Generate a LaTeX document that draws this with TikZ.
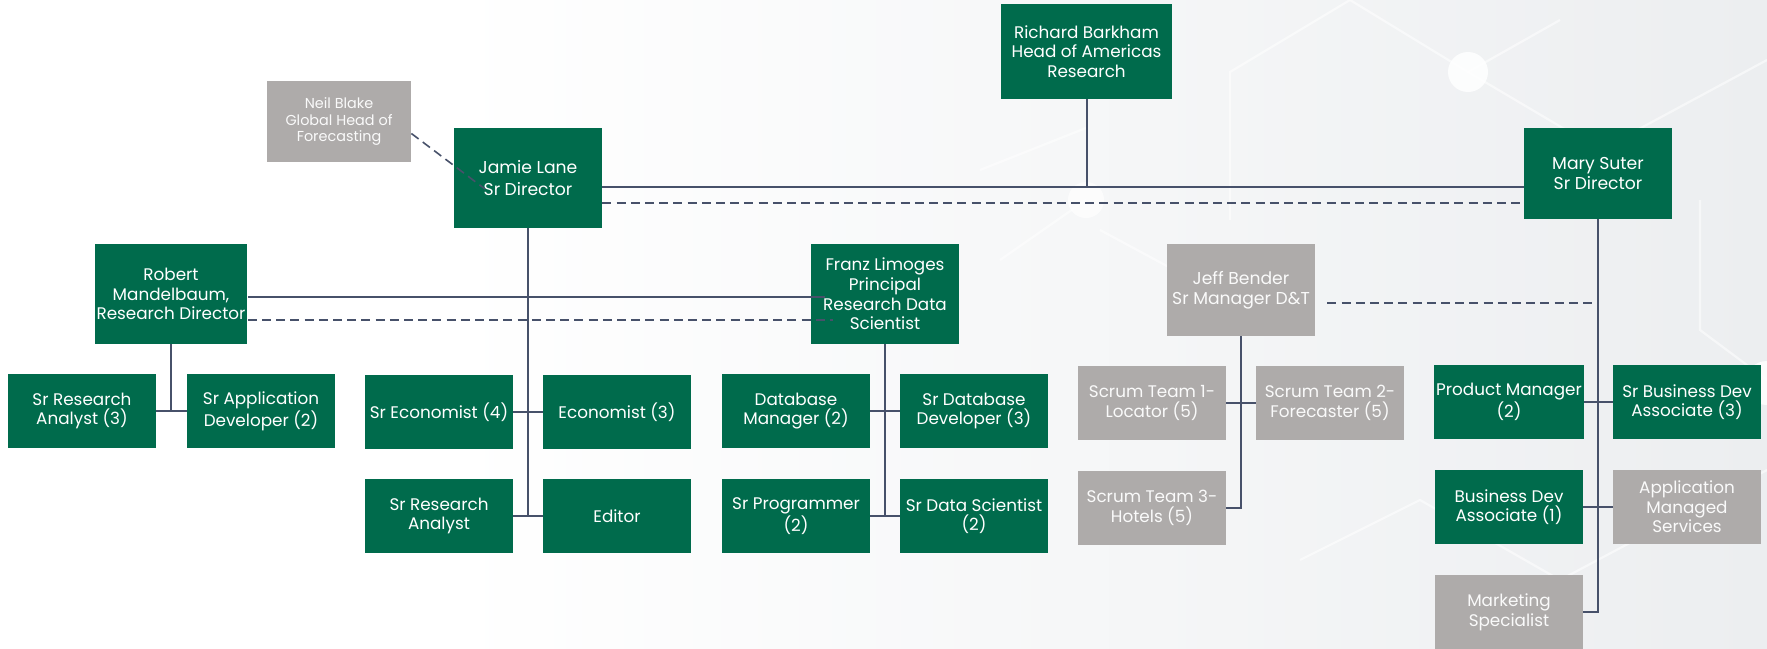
\documentclass[tikz,border=0pt]{standalone}
\usepackage{fontspec}
\setmainfont{Poppins}
\usepackage{tikz}
\usetikzlibrary{positioning}
\definecolor{orggreen}{HTML}{006B4C}
\definecolor{orggray}{HTML}{AEABAA}
\definecolor{linkcol}{HTML}{47516A}
\definecolor{bggray}{HTML}{ECEEF0}

\begin{document}
\begin{tikzpicture}[x=0.5pt,y=-0.5pt,
    person/.style={rectangle,inner sep=1pt,align=center,text=white,
      minimum width=74pt,minimum height=37pt,font=\fontsize{8.4}{9.8}\selectfont},
    staff/.style={person,fill=orggreen},
    outside/.style={person,fill=orggray,text=white!94!orggray},
    link/.style={draw=linkcol,line width=1pt},
    dlink/.style={draw=linkcol,line width=0.8pt,dash pattern=on 4.5pt off 2.6pt},
    hexline/.style={draw=white,line width=1.1pt,opacity=0.55}]

    % backdrop
    \useasboundingbox (0,0) rectangle (1767,648);
    \fill[white] (0,0) rectangle (1767,648);
    \shade[left color=white,right color=bggray] (450,0) rectangle (1767,648);
    \draw[hexline] (980,170) -- (1086,128);
    \draw[hexline] (1230,220) -- (1230,72) -- (1350,0);
    \draw[hexline] (1350,0) -- (1468,72) -- (1560,20);
    \draw[hexline] (1468,72) -- (1600,150) -- (1767,60);
    \draw[hexline] (1700,200) -- (1700,330) -- (1767,380);
    \draw[hexline] (1100,230) -- (1230,300) -- (1300,260);
    \draw[hexline] (1086,200) -- (1000,260);
    \draw[hexline] (1300,560) -- (1420,500) -- (1560,580) -- (1767,470);
    \draw[hexline] (1560,580) -- (1560,648);
    \fill[white,opacity=0.85] (1468,72) circle (20);
    \fill[white,opacity=0.7] (1086,200) circle (18);
    \fill[white,opacity=0.85] (1767,383) circle (22);

    % top of the chart
    \node[staff,minimum width=85.5pt,minimum height=47.5pt] (rich) at (1086.5,51.5)
      {Richard Barkham\\Head of Americas\\Research};
    \node[outside,minimum width=72pt,minimum height=40.5pt,
      font=\fontsize{7.2}{8.4}\selectfont] (neil) at (339,121.5)
      {Neil Blake\\Global Head of\\Forecasting};
    \node[staff,minimum height=50pt,font=\fontsize{8.6}{10.8}\selectfont] (jamie) at (528,178)
      {Jamie Lane\\Sr Director};
    \node[staff,minimum height=45.5pt,font=\fontsize{8.6}{10.2}\selectfont] (mary) at (1598,173.5)
      {Mary Suter\\Sr Director};

    % managers
    \node[staff,minimum height=50pt] (robert) at (171,294)
      {Robert\\Mandelbaum,\\Research Director};
    \node[staff,minimum height=50pt] (franz) at (885,294)
      {Franz Limoges\\Principal\\Research Data\\Scientist};
    \node[outside,minimum height=46pt,font=\fontsize{8.6}{10}\selectfont] (jeff) at (1241,290)
      {Jeff Bender\\Sr Manager D\&T};

    % teams
    \node[staff] (sra3)  at (82,411)  {Sr Research\\Analyst (3)};
    \node[staff] (sad2)  at (261,411) {Sr Application\\Developer (2)};
    \node[staff] (seco)  at (439,412) {Sr Economist (4)};
    \node[staff] (eco)   at (617,412) {Economist (3)};
    \node[staff] (dbm)   at (796,411) {Database\\Manager (2)};
    \node[staff] (sdbd)  at (974,411) {Sr Database\\Developer (3)};
    \node[staff] (sra)   at (439,516) {Sr Research\\Analyst};
    \node[staff] (editor) at (617,516) {Editor};
    \node[staff] (sprog) at (796,516) {Sr Programmer\\(2)};
    \node[staff] (sds)   at (974,516) {Sr Data Scientist\\(2)};

    \node[outside] (scrum1) at (1152,403) {Scrum Team 1-\\Locator (5)};
    \node[outside] (scrum2) at (1330,403) {Scrum Team 2-\\Forecaster (5)};
    \node[outside] (scrum3) at (1152,508) {Scrum Team 3-\\Hotels (5)};

    \node[staff]   (pm)   at (1509,402) {Product Manager\\(2)};
    \node[staff]   (sbda) at (1687,402) {Sr Business Dev\\Associate (3)};
    \node[staff]   (bda)  at (1509,507) {Business Dev\\Associate (1)};
    \node[outside] (ams)  at (1687,507) {Application\\Managed\\Services};
    \node[outside] (mkt)  at (1509,612) {Marketing\\Specialist};

    % reporting lines
    \coordinate (topline) at (0,187);
    \coordinate (topdash) at (0,203);
    \coordinate (midline) at (0,297);
    \coordinate (middash) at (0,320);
    \coordinate (jeffdash) at (0,303);
    \coordinate (neilend) at (485,189);

    \draw[link] (rich.south) -- (rich.south |- topline);
    \draw[link] (jamie.east |- topline) -- (mary.west |- topline);
    \draw[dlink] (jamie.east |- topdash) -- (mary.west |- topdash);
    \draw[dlink] ([yshift=-6pt]neil.east) -- (neilend);

    \draw[link] (robert.east |- midline) -- ([xshift=7pt]franz.west |- midline);
    \draw[dlink] (robert.east |- middash) -- ([xshift=11pt]franz.west |- middash);

    \draw[link] (robert.south) -- (robert.south |- sra3);
    \draw[link] (sra3.east) -- (sad2.west);

    \draw[link] (jamie.south) -- (jamie.south |- editor);
    \draw[link] (seco.east) -- (eco.west);
    \draw[link] (sra.east) -- (editor.west);

    \draw[link] (franz.south) -- (franz.south |- sds);
    \draw[link] (dbm.east) -- (sdbd.west);
    \draw[link] (sprog.east) -- (sds.west);

    \draw[link] (jeff.south) |- (scrum3.east);
    \draw[link] (scrum1.east) -- (scrum2.west);
    \draw[dlink] ([xshift=6pt]jeff.east |- jeffdash) -- (mary.south |- jeffdash);

    \draw[link] (mary.south) |- (mkt.east);
    \draw[link] (pm.east) -- (sbda.west);
    \draw[link] (bda.east) -- (ams.west);

\end{tikzpicture}
\end{document}
